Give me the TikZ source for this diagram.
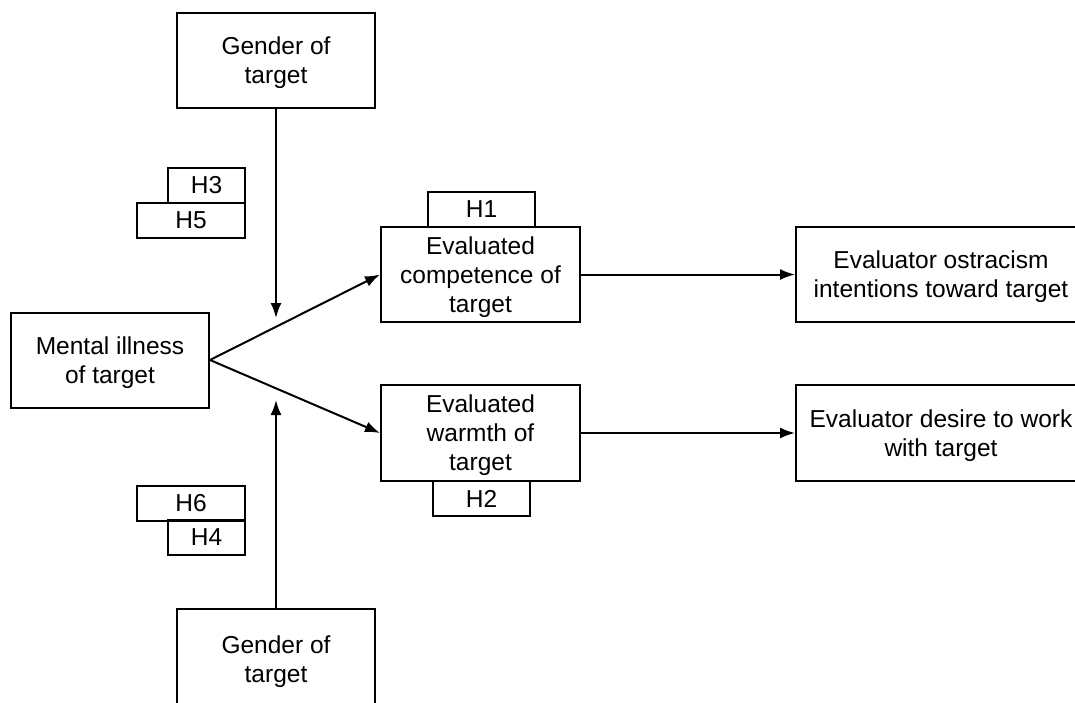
\documentclass[tikz,border=0pt]{standalone}
\usepackage{fontspec}
\setmainfont{Liberation Sans}
\usetikzlibrary{arrows.meta}

\tikzset{
  frame/.style={draw, line width=2pt, align=center, inner sep=0pt,
    font=\fontsize{24.5}{29}\selectfont},
  box/.style={frame, text depth=-3pt},
  hbox/.style={frame, minimum height=35pt},
  link/.style={line width=2pt, -{Latex[length=15pt,width=11pt]}}
}

\begin{document}
\begin{tikzpicture}[x=1pt, y=-1pt]
  \useasboundingbox (0,0) rectangle (1075,702);
  \clip (0,0) rectangle (1075,702);
  % main boxes
  \node[box, minimum width=198pt, minimum height=95pt] (gtop) at (276,60) {Gender of\\target};
  \node[box, minimum width=198pt, minimum height=95pt] (mental) at (110,360) {Mental illness\\of target};
  \node[box, minimum width=199pt, minimum height=95pt] (comp) at (480.5,274.5) {Evaluated\\competence of\\target};
  \node[box, minimum width=199pt, minimum height=96pt] (warm) at (480.5,433) {Evaluated\\warmth of\\target};
  \node[box, minimum width=290pt, minimum height=95pt] (ostr) at (941,274.5) {Evaluator ostracism\\intentions toward target};
  \node[box, minimum width=290pt, minimum height=96pt] (desire) at (941,433) {Evaluator desire to work\\with target};
  \node[box, minimum width=198pt, minimum height=100pt] (gbot) at (276,659) {Gender of\\target};
  % hypothesis labels
  \node[hbox, minimum width=77pt] (h3) at (206.5,185.5) {H3};
  \node[hbox, minimum width=108pt] (h5) at (191,220.5) {H5};
  \node[hbox, minimum width=107pt] (h1) at (481.5,209.5) {H1};
  \node[hbox, minimum width=97pt] (h2) at (481.5,498.5) {H2};
  \node[hbox, minimum width=108pt] (h6) at (191,503) {H6};
  \node[hbox, minimum width=77pt] (h4) at (206.5,537) {H4};
  % free ends of the moderator arrows
  \coordinate (mtop) at (276,318);
  \coordinate (mbot) at (276,400);
  % connectors
  \draw[link] (gtop.south) -- (mtop);
  \draw[link] (gbot.north) -- (mbot);
  \draw[link] (mental.east) -- (comp.west);
  \draw[link] (mental.east) -- (warm.west);
  \draw[link] (comp.east) -- (ostr.west);
  \draw[link] (warm.east) -- (desire.west);
\end{tikzpicture}
\end{document}
